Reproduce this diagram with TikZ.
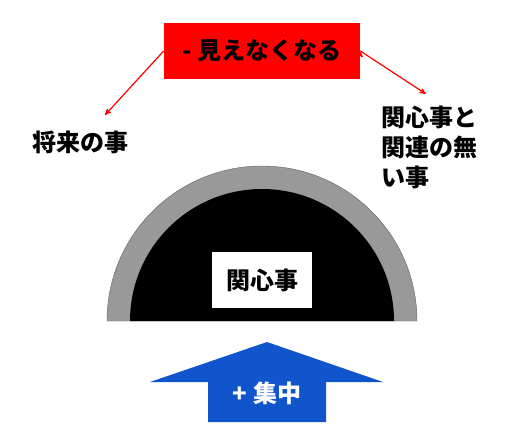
\documentclass[tikz,border=0pt]{standalone}
\usepackage{fontspec}
\usepackage{xcolor}
\newfontfamily\jpfont{Noto Sans CJK JP}
\usetikzlibrary{arrows,positioning}

\definecolor{hidered}{RGB}{255,0,0}
\definecolor{focusblue}{RGB}{17,85,204}
\definecolor{ringgray}{RGB}{153,153,153}
\definecolor{ringedge}{RGB}{100,100,100}

\begin{document}
\begin{tikzpicture}[x=1pt, y=-1pt, ->, >=stealth', semithick, align=left,
    font=\jpfont\bfseries\fontsize{24}{30}\selectfont]

    \tikzstyle{every node}=[inner sep=0pt, text=black]
    \tikzstyle{tag}=[minimum width=196pt, minimum height=56pt, fill=hidered]

    \useasboundingbox (0,0) rectangle (532,446);

    % tunnel
    \filldraw[fill=ringgray, draw=ringedge, thin, -] (107,321) arc[start angle=180, end angle=360, radius=155] -- cycle;
    \fill[black] (130,321) arc[start angle=180, end angle=360, radius=132] -- cycle;

    \node[fill=white, minimum width=100pt, minimum height=56pt] (core) at (262,280) {関心事};

    % focus arrow
    \fill[focusblue] (267,342) -- (383,382) -- (326,382) -- (326,422)
        -- (208,422) -- (208,382) -- (150,382) -- cycle;
    \node[text=white] (focus) at (267,393) {+ 集中};

    \node[tag] (hide) at (262,51) {- 見えなくなる};

    \node (future) at (80,142) {将来の事};
    \node[anchor=north west] (other) at (381,106) {関心事と\\関連の無\\い事};

    \coordinate (futuretip) at (105,115);
    \coordinate (othertip) at (426,94);

    \path[draw=hidered, line width=1.2pt] (hide.west) edge (futuretip)
                                          (hide.east) edge (othertip);
\end{tikzpicture}
\end{document}
